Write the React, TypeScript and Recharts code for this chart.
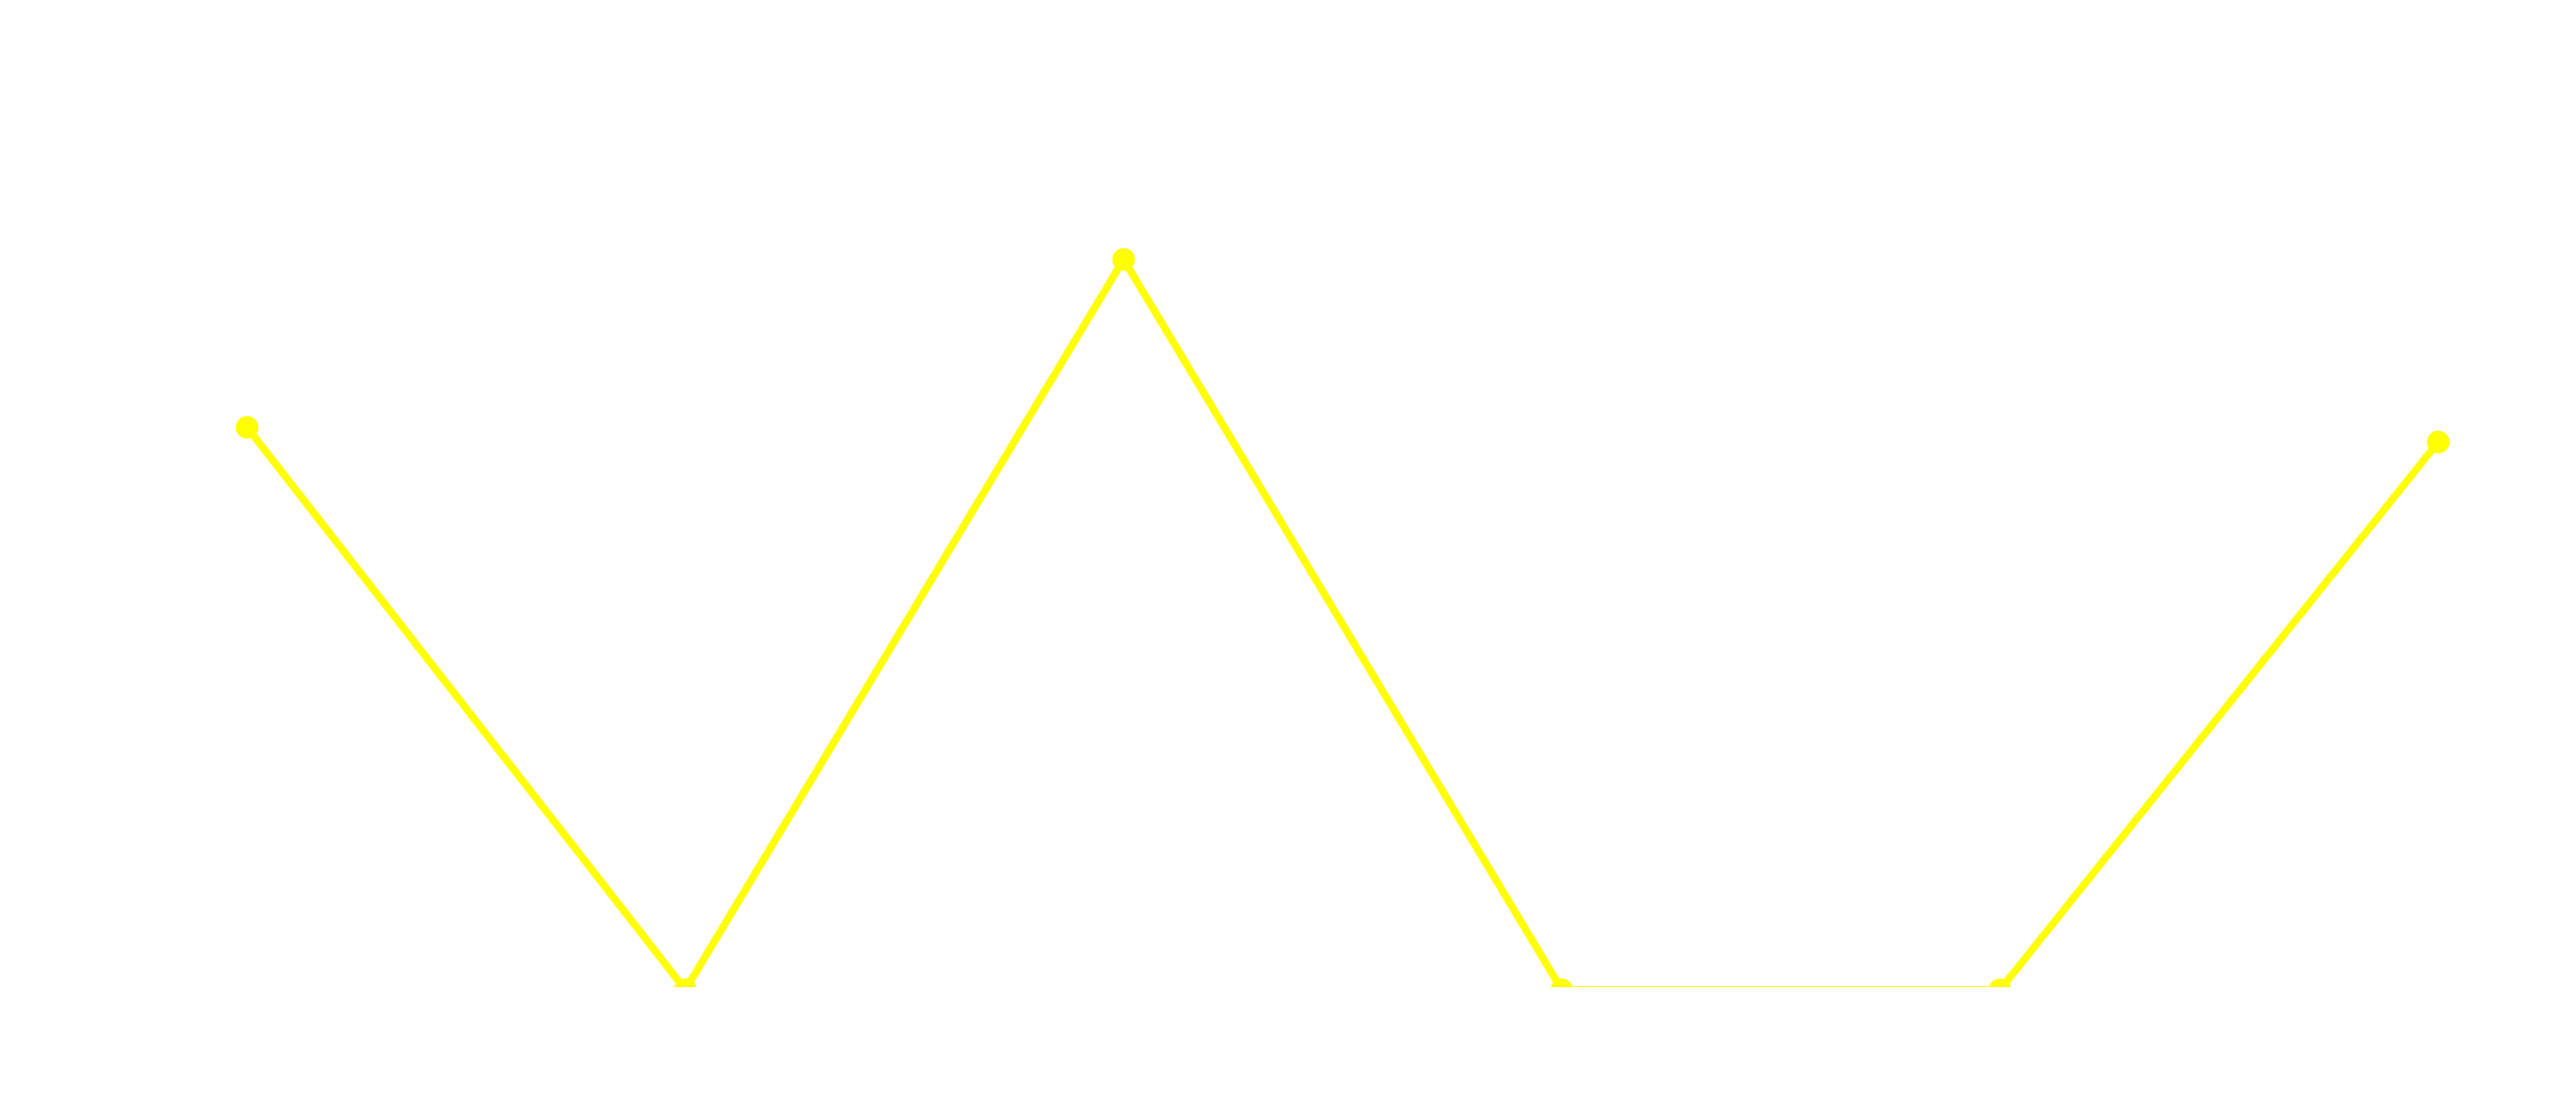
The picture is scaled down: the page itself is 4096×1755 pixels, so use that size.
import { Line, LineChart, XAxis, YAxis } from 'recharts'

const categories = ['A', 'B', 'C', 'D', 'E', 'F']
const values = [7.7, 0, 10, 0, 0, 7.5]

const data = categories.map((name, i) => ({ name, value: values[i] }))

const YELLOW = '#ffff00'

export default function App() {
	return (
		<div
			style={{
				position: 'absolute',
				left: 0,
				top: 0,
				width: 4095,
				height: 1755,
				background: '#ffffff',
			}}
		>
			<LineChart
				width={4095}
				height={1755}
				data={data}
				margin={{ top: 50, right: 218, left: 393, bottom: 186 }}
			>
				<XAxis dataKey="name" hide />
				<YAxis hide domain={[0.038, 13.122]} allowDataOverflow />
				<Line
					type="linear"
					dataKey="value"
					stroke={YELLOW}
					strokeWidth={11.7}
					dot={{ r: 18, fill: YELLOW, stroke: 'none' }}
					activeDot={false}
					isAnimationActive={false}
				/>
			</LineChart>
		</div>
	)
}
